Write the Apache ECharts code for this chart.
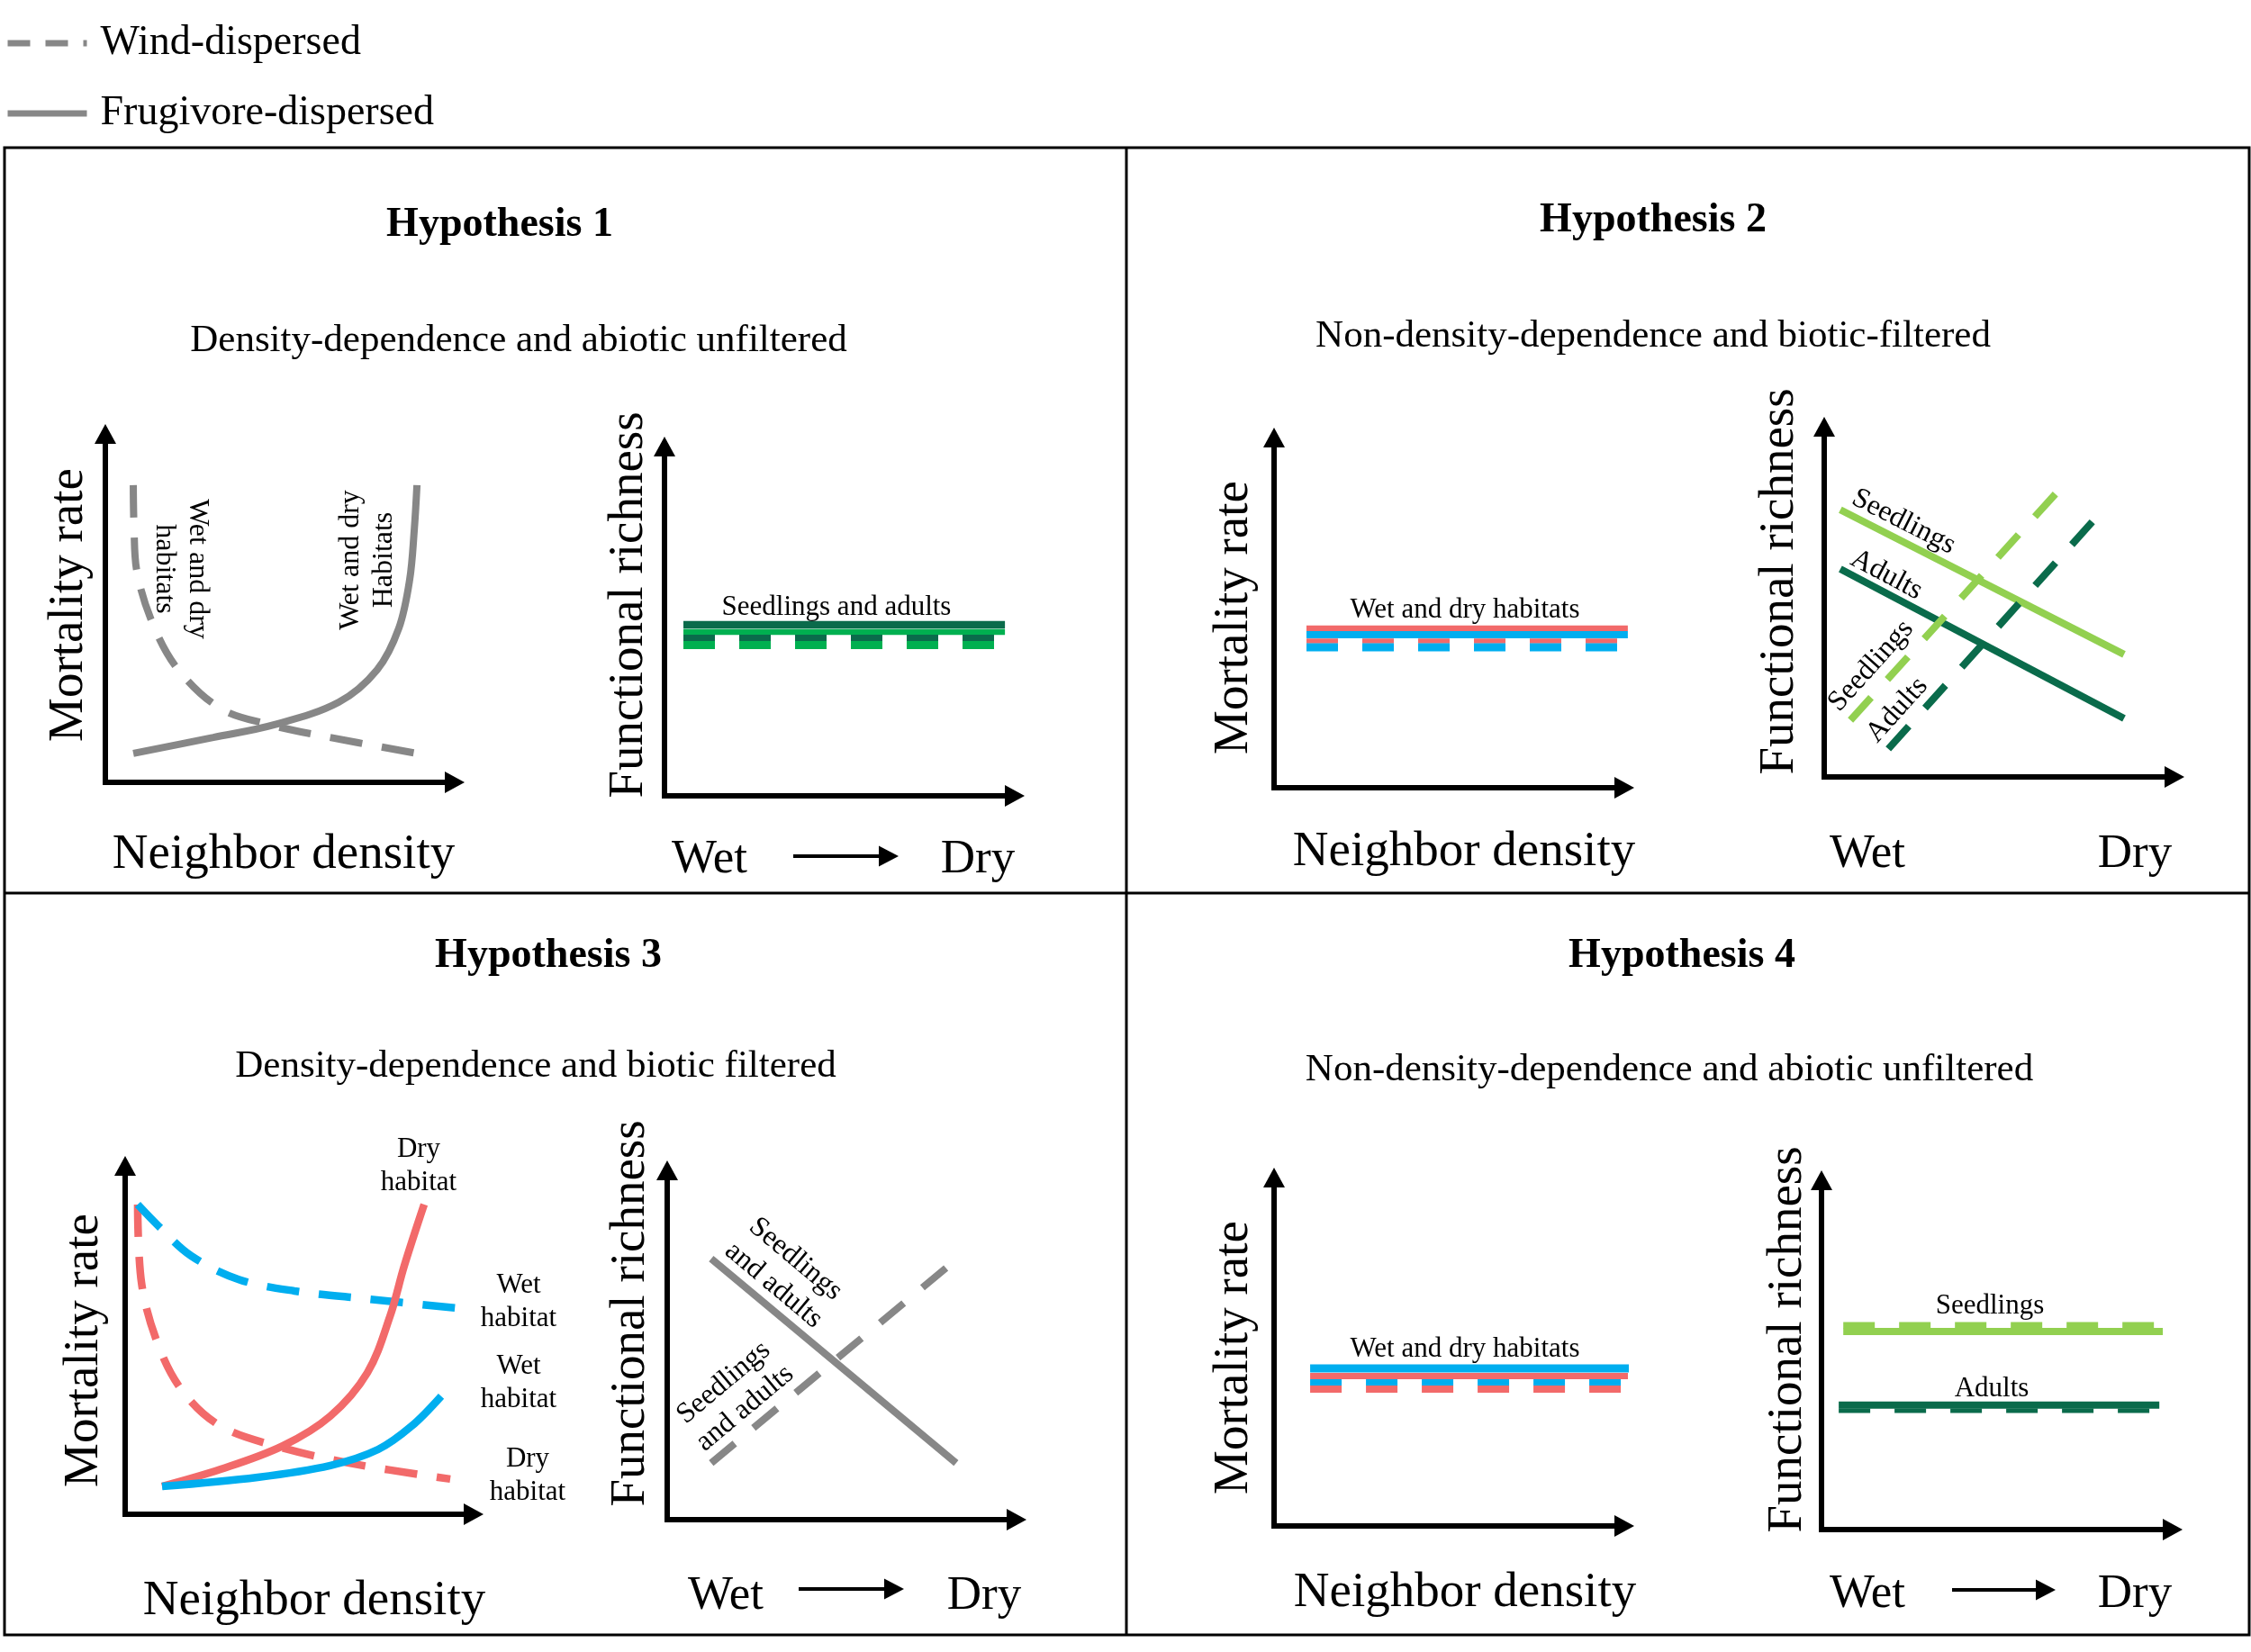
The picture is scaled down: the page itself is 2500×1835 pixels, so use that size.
<!DOCTYPE html>
<html><head><meta charset="utf-8">
<script src="https://cdn.jsdelivr.net/npm/echarts@6/dist/echarts.min.js"></script>
<style>html,body{margin:0;padding:0;background:#fff}#c{width:2500px;height:1835px}</style>
</head><body><div id="c"></div>
<script>
// ---------------- text content ----------------
const TITLES = ['Hypothesis 1', 'Hypothesis 2', 'Hypothesis 3', 'Hypothesis 4'];
const SUBTITLES = ['Density-dependence and abiotic unfiltered', 'Non-density-dependence and biotic-filtered',
  'Density-dependence and biotic filtered', 'Non-density-dependence and abiotic unfiltered'];
const LEGEND_NAMES = ['Wind-dispersed', 'Frugivore-dispersed'];
const Y_NAMES = ['Mortality rate', 'Functional richness'];
const X_NAME = 'Neighbor density';
const GRADIENT = ['Wet', 'Dry'];

// ---------------- data (axes 0..100 conceptual units) ----------------
// Hypothesis 1 – mortality vs neighbor density (gray)
const h1Wind = [[8.0, 85.3], [8.2, 73.4], [9.0, 60.7], [13.7, 45.2], [20.9, 32.3], [33.0, 21.2], [47.2, 16.5], [61.6, 13.4], [89.2, 8.3]];
const h1Frug = [[8.0, 8.3], [30.9, 12.9], [48.2, 16.5], [66.8, 23.0], [77.8, 32.3], [84.0, 44.2], [87.1, 58.1], [88.4, 72.1], [89.2, 85.3]];
// Hypothesis 1 – functional richness (flat)
const h1RichX = [5.4, 97.2];
const h1RichLevels = [49.0, 46.9, 45.2, 43.2]; // adults frug, seedlings frug, adults wind, seedlings wind

// Hypothesis 2 – mortality (flat)
const h2MortX = [9.25, 101.0];
const h2MortLevels = [45.5, 43.7, 41.9, 40.1]; // dry frug, wet frug, dry wind, wet wind
// Hypothesis 2 – functional richness
const h2SeedFrug = [[4.6, 76.3], [85.6, 35.0]];
const h2AdultFrug = [[4.6, 59.4], [85.6, 16.7]];
const h2SeedWind = [[7.5, 16.2], [67.1, 82.0]];
const h2AdultWind = [[18.3, 8.0], [77.4, 73.8]];

// Hypothesis 3 – mortality
const h3WindDry = [[3.6, 88.9], [4.7, 66.4], [9.6, 48.3], [16.8, 34.9], [27.4, 25.3], [43.2, 19.6], [64.3, 14.7], [93.3, 10.1]];
const h3WindWet = [[3.6, 88.9], [9.6, 82.7], [18.9, 74.2], [32.6, 67.4], [48.6, 64.1], [69.5, 61.8], [94.8, 59.2]];
const h3FrugDry = [[10.6, 8.0], [27.4, 12.9], [45.2, 19.6], [58.9, 28.2], [69.5, 40.6], [76.0, 56.8], [80.1, 71.3], [85.8, 88.9]];
const h3FrugWet = [[10.6, 8.0], [38.0, 10.6], [58.9, 14.0], [72.6, 18.6], [82.2, 25.3], [90.7, 33.9]];
// Hypothesis 3 – functional richness
const h3Frug = [[12.6, 74.7], [82.7, 16.2]];
const h3Wind = [[12.6, 16.2], [81.2, 73.2]];

// Hypothesis 4 – mortality (flat)
const h4MortX = [10.3, 102.1];
const h4MortLevels = [45.2, 43.0, 41.2, 39.3]; // wet frug, dry frug, wet wind, dry wind
// Hypothesis 4 – functional richness (flat)
const h4SeedX = [6.2, 97.2];
const h4SeedLevels = [58.5, 56.7]; // wind, frug
const h4AdultX = [4.9, 96.2];
const h4AdultLevels = [35.6, 34.0]; // frug, wind

// ---------------- styling ----------------
const FONT = '"Liberation Serif", "Times New Roman", serif';
const GRAY = '#878787', RED = '#f26a6a', BLUE = '#00aeef', DKGREEN = '#0a6b4b', GREEN = '#00b050', LTGREEN = '#92d050';
const DASH_H = [35, 27], DASH_C = [36, 22], DASH_D = [34, 27];

const grids = [
  {left: 117, top: 482, width: 388, height: 387},
  {left: 738, top: 496, width: 389, height: 388},
  {left: 1415, top: 486, width: 389, height: 389},
  {left: 2026, top: 474, width: 389, height: 389},
  {left: 139, top: 1295, width: 387, height: 387},
  {left: 741, top: 1300, width: 388, height: 388},
  {left: 1415, top: 1308, width: 389, height: 387},
  {left: 2023, top: 1311, width: 390, height: 388}
];

function axis(i) {
  return {
    type: 'value', gridIndex: i, min: 0, max: 100,
    axisLine: {show: true, onZero: false, symbol: ['none', 'triangle'], symbolSize: [24, 22],
      lineStyle: {color: '#000', width: 6, cap: 'square'}},
    axisTick: {show: false}, axisLabel: {show: false}, splitLine: {show: false}
  };
}
function line(gi, name, data, color, width, dash, smooth) {
  return {
    type: 'line', name: name, xAxisIndex: gi, yAxisIndex: gi, data: data,
    symbol: 'none', smooth: smooth || false, clip: false, silent: true,
    lineStyle: {color: color, width: width, type: dash || 'solid', cap: 'butt'},
    itemStyle: {color: color}, emphasis: {disabled: true}
  };
}
function flat(xs, y) { return [[xs[0], y], [xs[1], y]]; }

const series = [
  // H1 mortality
  line(0, LEGEND_NAMES[0], h1Wind, GRAY, 8, DASH_C, 0.35),
  line(0, LEGEND_NAMES[1], h1Frug, GRAY, 8, 'solid', 0.35),
  // H1 richness
  line(1, 'Adults, frugivore-dispersed', flat(h1RichX, h1RichLevels[0]), DKGREEN, 8.5),
  line(1, 'Seedlings, frugivore-dispersed', flat(h1RichX, h1RichLevels[1]), GREEN, 6.5),
  line(1, 'Adults, wind-dispersed', flat(h1RichX, h1RichLevels[2]), DKGREEN, 7, DASH_H),
  line(1, 'Seedlings, wind-dispersed', flat(h1RichX, h1RichLevels[3]), GREEN, 9, DASH_H),
  // H2 mortality
  line(2, 'Dry habitat, frugivore-dispersed', flat(h2MortX, h2MortLevels[0]), RED, 6.5),
  line(2, 'Wet habitat, frugivore-dispersed', flat(h2MortX, h2MortLevels[1]), BLUE, 8),
  line(2, 'Dry habitat, wind-dispersed', flat(h2MortX, h2MortLevels[2]), RED, 5.5, DASH_H),
  line(2, 'Wet habitat, wind-dispersed', flat(h2MortX, h2MortLevels[3]), BLUE, 9, DASH_H),
  // H2 richness
  line(3, 'Seedlings, frugivore-dispersed', h2SeedFrug, LTGREEN, 8),
  line(3, 'Adults, frugivore-dispersed', h2AdultFrug, DKGREEN, 8),
  line(3, 'Seedlings, wind-dispersed', h2SeedWind, LTGREEN, 8, DASH_D),
  line(3, 'Adults, wind-dispersed', h2AdultWind, DKGREEN, 8, DASH_D),
  // H3 mortality
  line(4, 'Dry habitat, wind-dispersed', h3WindDry, RED, 8.5, DASH_C, 0.35),
  line(4, 'Wet habitat, wind-dispersed', h3WindWet, BLUE, 8.5, DASH_C, 0.35),
  line(4, 'Dry habitat, frugivore-dispersed', h3FrugDry, RED, 8.5, 'solid', 0.35),
  line(4, 'Wet habitat, frugivore-dispersed', h3FrugWet, BLUE, 8.5, 'solid', 0.35),
  // H3 richness
  line(5, 'Frugivore-dispersed', h3Frug, GRAY, 8),
  line(5, 'Wind-dispersed', h3Wind, GRAY, 8, DASH_D),
  // H4 mortality
  line(6, 'Wet habitat, frugivore-dispersed', flat(h4MortX, h4MortLevels[0]), BLUE, 9),
  line(6, 'Dry habitat, frugivore-dispersed', flat(h4MortX, h4MortLevels[1]), RED, 7),
  line(6, 'Wet habitat, wind-dispersed', flat(h4MortX, h4MortLevels[2]), BLUE, 7, DASH_H),
  line(6, 'Dry habitat, wind-dispersed', flat(h4MortX, h4MortLevels[3]), RED, 8, DASH_H),
  // H4 richness
  line(7, 'Seedlings, wind-dispersed', flat(h4SeedX, h4SeedLevels[0]), LTGREEN, 7, DASH_H),
  line(7, 'Seedlings, frugivore-dispersed', flat(h4SeedX, h4SeedLevels[1]), LTGREEN, 8),
  line(7, 'Adults, frugivore-dispersed', flat(h4AdultX, h4AdultLevels[0]), DKGREEN, 8),
  line(7, 'Adults, wind-dispersed', flat(h4AdultX, h4AdultLevels[1]), DKGREEN, 5, DASH_H)
];

// ---------------- text & frame graphics ----------------
const D = Math.PI / 180;
function txt(x, y, text, size, extra) {
  extra = extra || {};
  return {
    type: 'text', x: x, y: y, rotation: extra.rot || 0, silent: true, z: 20,
    style: {text: text, x: 0, y: 4, fill: '#000', fontFamily: FONT, fontSize: size, fontWeight: extra.bold ? 'bold' : 'normal',
      align: 'center', verticalAlign: 'middle', lineHeight: extra.lh || size * 1.15}
  };
}
function gradArrow(x0, x1, y) {
  return [
    {type: 'line', silent: true, shape: {x1: x0, y1: y, x2: x1 - 20, y2: y}, style: {stroke: '#000', lineWidth: 4}},
    {type: 'polygon', silent: true, shape: {points: [[x1 - 22, y - 11.5], [x1, y], [x1 - 22, y + 11.5]]}, style: {fill: '#000'}}
  ];
}

const graphics = [
  {type: 'rect', silent: true, shape: {x: 5, y: 164, width: 2493, height: 1652}, style: {fill: 'none', stroke: '#000', lineWidth: 3}},
  {type: 'line', silent: true, shape: {x1: 1251, y1: 164, x2: 1251, y2: 1816}, style: {stroke: '#000', lineWidth: 3}},
  {type: 'line', silent: true, shape: {x1: 5, y1: 992, x2: 2498, y2: 992}, style: {stroke: '#000', lineWidth: 3}},
  // titles
  txt(555, 246, TITLES[0], 46, {bold: true}),
  txt(1836, 241, TITLES[1], 46, {bold: true}),
  txt(609, 1058, TITLES[2], 46, {bold: true}),
  txt(1868, 1058, TITLES[3], 46, {bold: true}),
  txt(576, 375, SUBTITLES[0], 43),
  txt(1836, 370, SUBTITLES[1], 43),
  txt(595, 1181, SUBTITLES[2], 43),
  txt(1854, 1185, SUBTITLES[3], 43),
  // axis names
  txt(73, 672, Y_NAMES[0], 55, {rot: 90 * D}),
  txt(695, 672, Y_NAMES[1], 55, {rot: 90 * D}),
  txt(1367, 686, Y_NAMES[0], 55, {rot: 90 * D}),
  txt(1973, 646, Y_NAMES[1], 55, {rot: 90 * D}),
  txt(90, 1500, Y_NAMES[0], 55, {rot: 90 * D}),
  txt(697, 1459, Y_NAMES[1], 55, {rot: 90 * D}),
  txt(1367, 1508, Y_NAMES[0], 55, {rot: 90 * D}),
  txt(1982, 1488, Y_NAMES[1], 55, {rot: 90 * D}),
  txt(315, 946, X_NAME, 55),
  txt(1626, 943, X_NAME, 55),
  txt(349, 1775, X_NAME, 55),
  txt(1627, 1766, X_NAME, 55),
  txt(788, 951, GRADIENT[0], 53), txt(1086, 951, GRADIENT[1], 53),
  txt(2074, 945, GRADIENT[0], 53), txt(2371, 945, GRADIENT[1], 53),
  txt(806, 1769, GRADIENT[0], 53), txt(1093, 1769, GRADIENT[1], 53),
  txt(2074, 1767, GRADIENT[0], 53), txt(2371, 1767, GRADIENT[1], 53),
  ...gradArrow(881, 998, 951),
  ...gradArrow(887, 1004, 1765),
  ...gradArrow(2168, 2283, 1766),
  // annotations
  txt(205, 632, 'Wet and dry\nhabitats', 32, {rot: -90 * D, lh: 37}),
  txt(404, 622, 'Wet and dry\nHabitats', 32, {rot: 90 * D, lh: 37}),
  txt(929, 671, 'Seedlings and adults', 31),
  txt(1627, 674, 'Wet and dry habitats', 31),
  txt(2116, 576, 'Seedlings', 32, {rot: -27 * D}),
  txt(2097, 635, 'Adults', 32, {rot: -28 * D}),
  txt(2075, 737, 'Seedlings', 32, {rot: 48 * D}),
  txt(2104, 786, 'Adults', 32, {rot: 48 * D}),
  txt(465, 1291, 'Dry\nhabitat', 31, {lh: 37}),
  txt(576, 1442, 'Wet\nhabitat', 31, {lh: 37}),
  txt(576, 1532, 'Wet\nhabitat', 31, {lh: 37}),
  txt(586, 1635, 'Dry\nhabitat', 31, {lh: 37}),
  txt(874, 1410, 'Seedlings\nand adults', 32, {rot: -40 * D, lh: 38}),
  txt(813, 1547, 'Seedlings\nand adults', 32, {rot: 40 * D, lh: 37}),
  txt(1627, 1495, 'Wet and dry habitats', 31),
  txt(2210, 1447, 'Seedlings', 31),
  txt(2212, 1539, 'Adults', 31)
];

const chart = echarts.init(document.getElementById('c'), null, {renderer: 'canvas'});
chart.setOption({
  animation: false,
  backgroundColor: '#fff',
  grid: grids.map(g => Object.assign({containLabel: false, outerBoundsMode: 'none'}, g)),
  xAxis: grids.map((g, i) => axis(i)),
  yAxis: grids.map((g, i) => axis(i)),
  legend: {
    orient: 'vertical', left: 0, top: 20, itemWidth: 88, itemHeight: 14, itemGap: 32,
    selectedMode: false,
    textStyle: {fontFamily: FONT, fontSize: 46, color: '#000', padding: [0, 0, 0, 10]},
    data: [
      {name: LEGEND_NAMES[0], lineStyle: {width: 7, type: [25, 17], color: GRAY}, itemStyle: {opacity: 0}},
      {name: LEGEND_NAMES[1], lineStyle: {width: 7, type: 'solid', color: GRAY}, itemStyle: {opacity: 0}}
    ]
  },
  series: series,
  graphic: graphics
});
</script></body></html>
